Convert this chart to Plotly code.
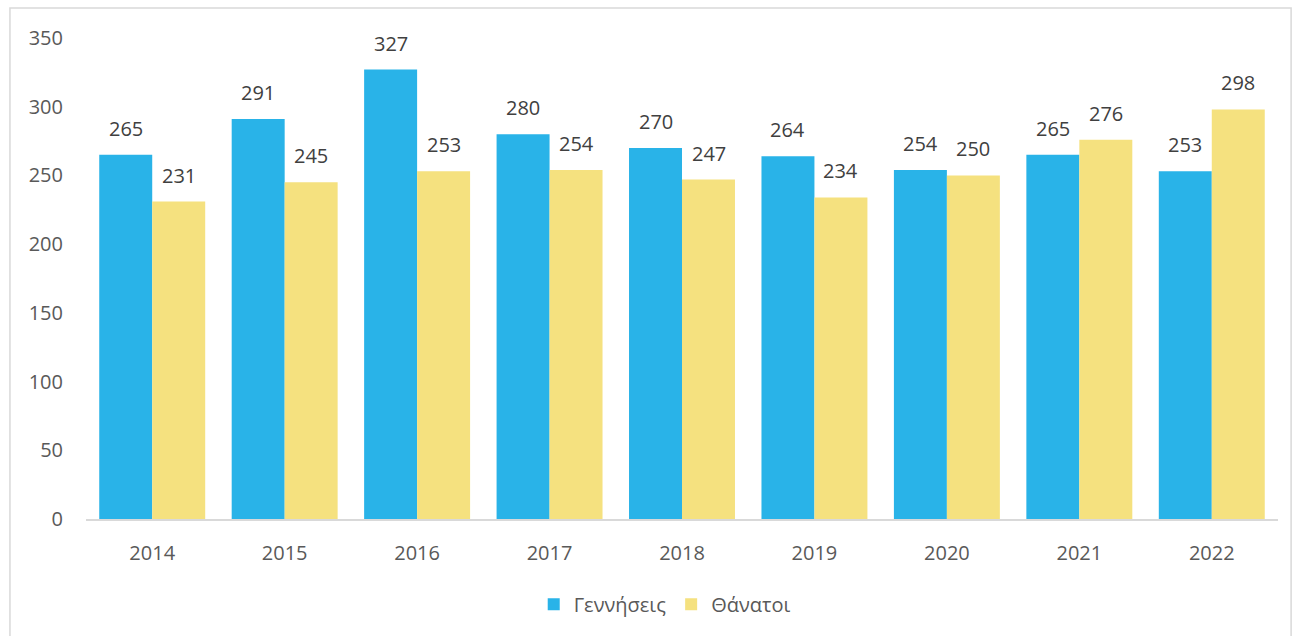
import plotly.graph_objects as go

years = ["2014", "2015", "2016", "2017", "2018", "2019", "2020", "2021", "2022"]
births = [265, 291, 327, 280, 270, 264, 254, 265, 253]
deaths = [231, 245, 253, 254, 247, 234, 250, 276, 298]
series_names = ["Γεννήσεις", "Θάνατοι"]
y_ticks = [0, 50, 100, 150, 200, 250, 300, 350]

BLUE = "#29B3E8"
YELLOW = "#F5E17F"
FONT = "Open Sans, DejaVu Sans, sans-serif"

fig = go.Figure()
fig.add_trace(go.Bar(x=years, y=births, name=series_names[0], marker_color=BLUE, marker_line_width=0))
fig.add_trace(go.Bar(x=years, y=deaths, name=series_names[1], marker_color=YELLOW, marker_line_width=0))

annotations = []
for i, (b, d) in enumerate(zip(births, deaths)):
    for val, xs in ((b, -26.5), (d, 26.5)):
        annotations.append(dict(x=i, y=val, xref="x", yref="y", text=str(val), showarrow=False,
                                xshift=xs, yanchor="bottom", yshift=11,
                                font=dict(family=FONT, size=20, color="#404040")))

fig.update_layout(
    width=1295, height=636,
    margin=dict(l=86, r=17, t=38, b=117, autoexpand=False),
    paper_bgcolor="white", plot_bgcolor="white",
    barmode="group", bargap=0.2, bargroupgap=0,
    font=dict(family=FONT, size=20, color="#595959"),
    showlegend=True,
    legend=dict(orientation="h", x=0.4855, xanchor="center", y=-0.177, yanchor="middle",
                font=dict(family=FONT, size=20, color="#595959"), itemwidth=30,
                traceorder="normal"),
    annotations=annotations,
    shapes=[dict(type="rect", xref="paper", yref="paper", x0=-0.0638, x1=1.011, y0=-0.3, y1=1.0624,
                 line=dict(color="#D9D9D9", width=1.5), fillcolor="rgba(0,0,0,0)", layer="below")],
)
fig.update_xaxes(type="category", range=[-0.5, 8.5], showgrid=False, showline=True,
                 linecolor="#D9D9D9", linewidth=1.5,
                 ticks="", ticklabelstandoff=15, tickfont=dict(size=20, color="#595959"))
fig.update_yaxes(range=[0, 350], tickvals=y_ticks, showgrid=False, showline=False, zeroline=False,
                 ticks="", ticklabelstandoff=22, tickfont=dict(size=20, color="#595959"))

fig.write_html("out.html", config={"displayModeBar": False},
               post_script="document.body.style.margin='0';")
